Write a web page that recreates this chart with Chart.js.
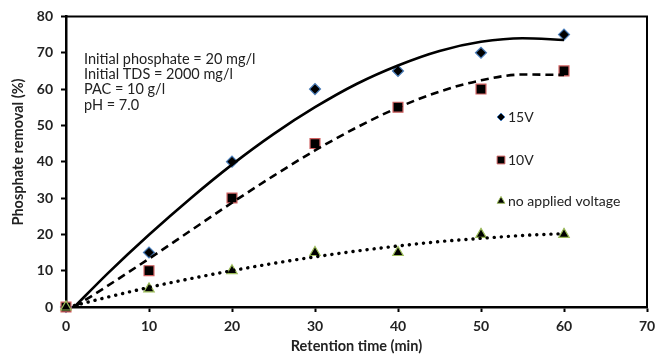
<!DOCTYPE html>
<html>
<head>
<meta charset="utf-8">
<script src="https://cdn.jsdelivr.net/npm/chart.js@4.4.0/dist/chart.umd.min.js"></script>
<style>
  html, body { margin: 0; padding: 0; background: #fff; }
  #wrap { width: 662px; height: 358px; position: relative; }
</style>
</head>
<body>
<div id="wrap"><canvas id="myChart" width="662" height="358"></canvas></div>
<script>
// measured points
const times = [0, 10, 20, 30, 40, 50, 60];
const removal15V = [0, 15, 40, 60, 65, 70, 75];
const removal10V = [0, 10, 30, 45, 55, 60, 65];
const removalNoV = [0, 5, 10, 15, 15, 20, 20];

// trend curves
const trendTimes = [1, 5, 10, 15, 20, 25, 30, 35, 40, 45, 50, 55, 60];
const trend15V = [0, 9.2, 19.9, 29.9, 39.2, 47.6, 55, 61.4, 66.5, 70.5, 73, 74, 73.5];
const trend10V = [0, 5.8, 13.3, 21, 28.7, 36.1, 43.1, 49.4, 54.9, 59.3, 62.4, 64, 63.9];
const trendNoV = [0.4, 2.7, 5.4, 7.8, 10, 12, 13.8, 15.4, 16.8, 18, 18.9, 19.7, 20.2];

const seriesNames = ['15V', '10V', 'no applied voltage'];
const xTicks = [0, 10, 20, 30, 40, 50, 60, 70];
const yTicks = [0, 10, 20, 30, 40, 50, 60, 70, 80];
const noteLines = ['Initial phosphate = 20 mg/l', 'Initial TDS = 2000 mg/l', 'PAC = 10 g/l', 'pH = 7.0'];
const yTitle = 'Phosphate removal (%)';

const FONT = 'Lato, "Open Sans", sans-serif';

const toPts = (xs, ys) => xs.map((x, i) => ({ x: x, y: ys[i] }));

const markerStyles = [
  { pointStyle: 'rectRot', radius: 5.5, border: '#4a7ebb', legendRadius: 4 },
  { pointStyle: 'rect', radius: 7, border: '#d06060', legendRadius: 5.5 },
  { pointStyle: 'triangle', radius: 6, border: '#9bbb59', legendRadius: 4.5 }
];
const seriesData = [removal15V, removal10V, removalNoV];
const trendData = [trend15V, trend10V, trendNoV];
const trendDash = [[], [8, 5], [0.1, 7]];

const datasets = [];
seriesData.forEach((vals, i) => {
  const st = markerStyles[i];
  datasets.push({
    label: seriesNames[i],
    data: toPts(times, vals),
    showLine: false,
    pointStyle: st.pointStyle,
    pointRadius: st.radius,
    pointBackgroundColor: '#000',
    pointBorderColor: st.border,
    pointBorderWidth: 1.2,
    clip: false,
    order: 3 - i
  });
});
trendData.forEach((vals, i) => {
  datasets.push({
    label: seriesNames[i] + ' trend',
    data: toPts(trendTimes, vals),
    showLine: true,
    pointRadius: 0,
    borderColor: '#000',
    borderWidth: i === 2 ? 3.4 : 2.6,
    borderDash: trendDash[i],
    borderCapStyle: i === 2 ? 'round' : 'butt',
    cubicInterpolationMode: 'monotone',
    fill: false,
    order: 0
  });
});

const extras = {
  id: 'extras',
  afterDraw(chart) {
    const ctx = chart.ctx;
    const a = chart.chartArea;
    ctx.save();
    // top and right frame
    ctx.strokeStyle = '#000';
    ctx.lineWidth = 2;
    ctx.beginPath();
    ctx.moveTo(a.left, a.top);
    ctx.lineTo(a.right, a.top);
    ctx.lineTo(a.right, a.bottom);
    ctx.stroke();

    // y axis title
    ctx.save();
    ctx.translate(18, 152);
    ctx.rotate(-Math.PI / 2);
    ctx.fillStyle = '#222';
    ctx.font = 'bold 14.5px ' + FONT;
    ctx.textAlign = 'center';
    ctx.textBaseline = 'middle';
    ctx.fillText(yTitle, 0, 0);
    ctx.restore();

    // notes
    ctx.fillStyle = '#222';
    ctx.font = '14.5px ' + FONT;
    ctx.textAlign = 'left';
    ctx.textBaseline = 'middle';
    noteLines.forEach((t, i) => ctx.fillText(t, 84, 59 + i * 15.4));

    // legend
    ctx.font = '14px ' + FONT;
    const ly = [117, 160, 201];
    seriesNames.forEach((name, i) => {
      const st = markerStyles[i];
      ctx.fillStyle = '#000';
      ctx.strokeStyle = st.border;
      ctx.lineWidth = 1;
      Chart.helpers.drawPoint(ctx, { pointStyle: st.pointStyle, radius: st.legendRadius, rotation: 0, borderWidth: 1 }, 501, ly[i]);
      ctx.fillStyle = '#222';
      ctx.fillText(name, 508, ly[i]);
    });
    ctx.restore();
  }
};

new Chart(document.getElementById('myChart'), {
  type: 'scatter',
  data: { datasets: datasets },
  options: {
    responsive: false,
    animation: false,
    layout: { padding: { top: 11, right: 15, left: 0, bottom: 0 } },
    plugins: { legend: { display: false }, tooltip: { enabled: false } },
    scales: {
      x: {
        type: 'linear',
        min: xTicks[0],
        max: xTicks[xTicks.length - 1],
        afterFit: s => { s.height = 51; },
        afterBuildTicks: s => { s.ticks = xTicks.map(v => ({ value: v })); },
        grid: { drawOnChartArea: false, drawTicks: true, tickLength: 5, tickColor: '#000', tickWidth: 2 },
        border: { color: '#000', width: 2.5 },
        ticks: { color: '#222', padding: 6, font: { family: FONT, size: 14, weight: 'bold' } },
        title: { display: true, text: 'Retention time (min)', color: '#222', padding: { top: 0, bottom: 3 }, font: { family: FONT, size: 14.5, weight: 'bold' } }
      },
      y: {
        type: 'linear',
        min: yTicks[0],
        max: yTicks[yTicks.length - 1],
        afterFit: s => { s.width = 66; },
        afterBuildTicks: s => { s.ticks = yTicks.map(v => ({ value: v })); },
        grid: { drawOnChartArea: false, drawTicks: true, tickLength: 5, tickColor: '#000', tickWidth: 2 },
        border: { color: '#000', width: 2.5 },
        ticks: { color: '#222', padding: 8, font: { family: FONT, size: 14, weight: 'bold' } },
        title: { display: false }
      }
    }
  },
  plugins: [extras]
});
</script>
</body>
</html>
